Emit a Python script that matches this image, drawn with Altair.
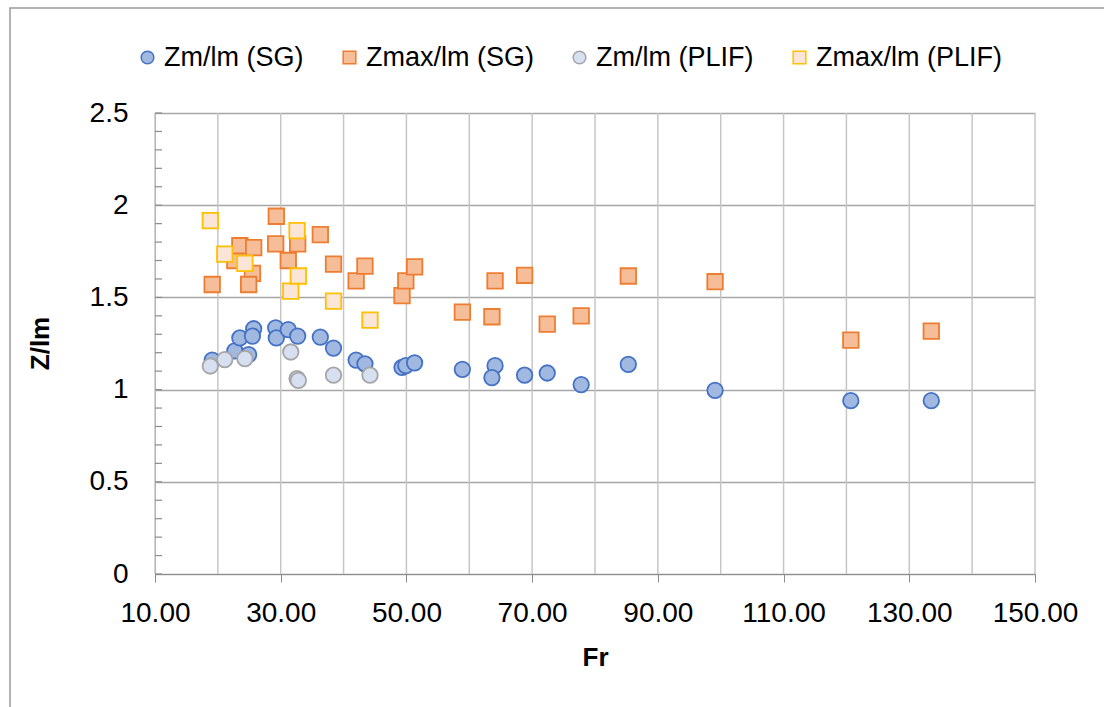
import altair as alt
import pandas as pd

# ---- data ----
series_names = ["Zm/lm (SG)", "Zmax/lm (SG)", "Zm/lm (PLIF)", "Zmax/lm (PLIF)"]

fr_sg = [19.1, 22.7, 23.5, 25.7, 25.5, 24.9, 29.2, 29.3, 31.2, 32.7, 36.3, 38.4, 42.0, 43.4,
         49.3, 49.9, 51.3, 58.9, 64.1, 63.6, 68.8, 72.4, 77.8, 85.3, 99.1, 120.7, 133.5]
zm_sg = [1.16, 1.21, 1.28, 1.33, 1.29, 1.19, 1.335, 1.28, 1.325, 1.29, 1.285, 1.225, 1.16, 1.14,
         1.12, 1.13, 1.145, 1.11, 1.13, 1.065, 1.078, 1.09, 1.027, 1.137, 0.996, 0.94, 0.94]
zmax_sg = [1.57, 1.70, 1.78, 1.77, 1.63, 1.57, 1.79, 1.94, 1.70, 1.79, 1.84, 1.68, 1.59, 1.67,
           1.51, 1.59, 1.666, 1.42, 1.59, 1.395, 1.62, 1.355, 1.40, 1.616, 1.585, 1.268, 1.317]

fr_plif = [18.8, 21.1, 24.3, 31.6, 32.6, 32.8, 38.4, 44.2]
zm_plif = [1.128, 1.163, 1.168, 1.204, 1.06, 1.05, 1.078, 1.078]
zmax_plif = [1.916, 1.735, 1.685, 1.534, 1.862, 1.616, 1.48, 1.377]

x_grid_values = [10, 20, 30, 40, 50, 60, 70, 80, 90, 100, 110, 120, 130, 140, 150]
x_label_values = [10, 30, 50, 70, 90, 110, 130, 150]
y_label_values = [0, 0.5, 1, 1.5, 2, 2.5]
y_minor_values = [round(i * 0.1, 1) for i in range(26)]

rows = []
for name, xs, ys in [
    (series_names[0], fr_sg, zm_sg),
    (series_names[1], fr_sg, zmax_sg),
    (series_names[2], fr_plif, zm_plif),
    (series_names[3], fr_plif, zmax_plif),
]:
    for i, (a, b) in enumerate(zip(xs, ys)):
        rows.append({"series": name, "Fr": a, "Z": b, "order": series_names.index(name) * 100 + i})
df = pd.DataFrame(rows)

FONT = "Liberation Sans"
W, H = 880, 461

xscale = alt.Scale(domain=[10, 150], nice=False, zero=False)
yscale = alt.Scale(domain=[0, 2.5], nice=False)

legend = alt.Legend(title=None)

points = alt.Chart(df).mark_point(size=240, opacity=1, fillOpacity=1, strokeWidth=1.8).encode(
    x=alt.X("Fr:Q", scale=xscale,
            axis=alt.Axis(values=x_label_values, format=".2f", grid=False, title="Fr",
                          labelFlush=False, labelOverlap=False,
                          tickSize=8, tickColor="#8c8c8c", domainColor="#8c8c8c",
                          labelPadding=17, titleY=83, titleBaseline="middle",
                          titleFontWeight="bold", titleFontSize=26)),
    y=alt.Y("Z:Q", scale=yscale,
            axis=alt.Axis(values=y_label_values, grid=True, gridColor="#a6a6a6", gridWidth=1.5,
                          ticks=False, domainColor="#8c8c8c", labelPadding=27,
                          labelExpr="'' + datum.value", labelFlush=False, labelOverlap=False,
                          title="Z/lm", titleX=-115, titleY=230, titleBaseline="middle",
                          titleFontWeight="bold", titleFontSize=26)),
    shape=alt.Shape("series:N", scale=alt.Scale(domain=series_names,
                    range=["circle", "square", "circle", "square"]), legend=legend),
    fill=alt.Fill("series:N", scale=alt.Scale(domain=series_names,
                  range=["#a1b8e1", "#f6be98", "#d7e0f1", "#fbe5d6"]), legend=legend),
    stroke=alt.Stroke("series:N", scale=alt.Scale(domain=series_names,
                      range=["#4472c4", "#ed7d31", "#a5a5a5", "#ffc000"]), legend=legend),
    order=alt.Order("order:Q"),
)

vgrid = alt.Chart(pd.DataFrame({"g": x_grid_values})).mark_rule(
    color="#c6c6c6", strokeWidth=1.5).encode(x=alt.X("g:Q", scale=xscale))

minor = alt.Chart(pd.DataFrame({"m": y_minor_values})).mark_rule(
    color="#8c8c8c", strokeWidth=1.2).encode(
    y=alt.Y("m:Q", scale=yscale), x=alt.value(0), x2=alt.value(7))

frame = alt.Chart(pd.DataFrame({"k": [0]})).mark_rect(
    fill=None, stroke="#9a9a9a", strokeWidth=1.5).encode(
    x=alt.value(-145), x2=alt.value(970), y=alt.value(-105), y2=alt.value(610))

chart = alt.layer(frame, vgrid, minor, points).properties(
    width=W, height=H,
    autosize=alt.AutoSizeParams(type="none"),
    padding={"left": 155, "top": 113, "right": 69, "bottom": 133},
).configure_view(stroke=None).configure_axis(
    labelFont=FONT, titleFont=FONT, labelFontSize=28, labelColor="#000000", titleColor="#000000"
).configure_legend(
    orient="none", legendX=-21, legendY=-69, direction="horizontal", columns=4,
    labelFont=FONT, labelFontSize=27, labelColor="#000000", symbolSize=160, labelLimit=500,
    symbolStrokeWidth=1.5, columnPadding=32, labelOffset=3, gridAlign="none"
)

chart.save("out.html", embed_options={"renderer": "svg", "actions": False})
